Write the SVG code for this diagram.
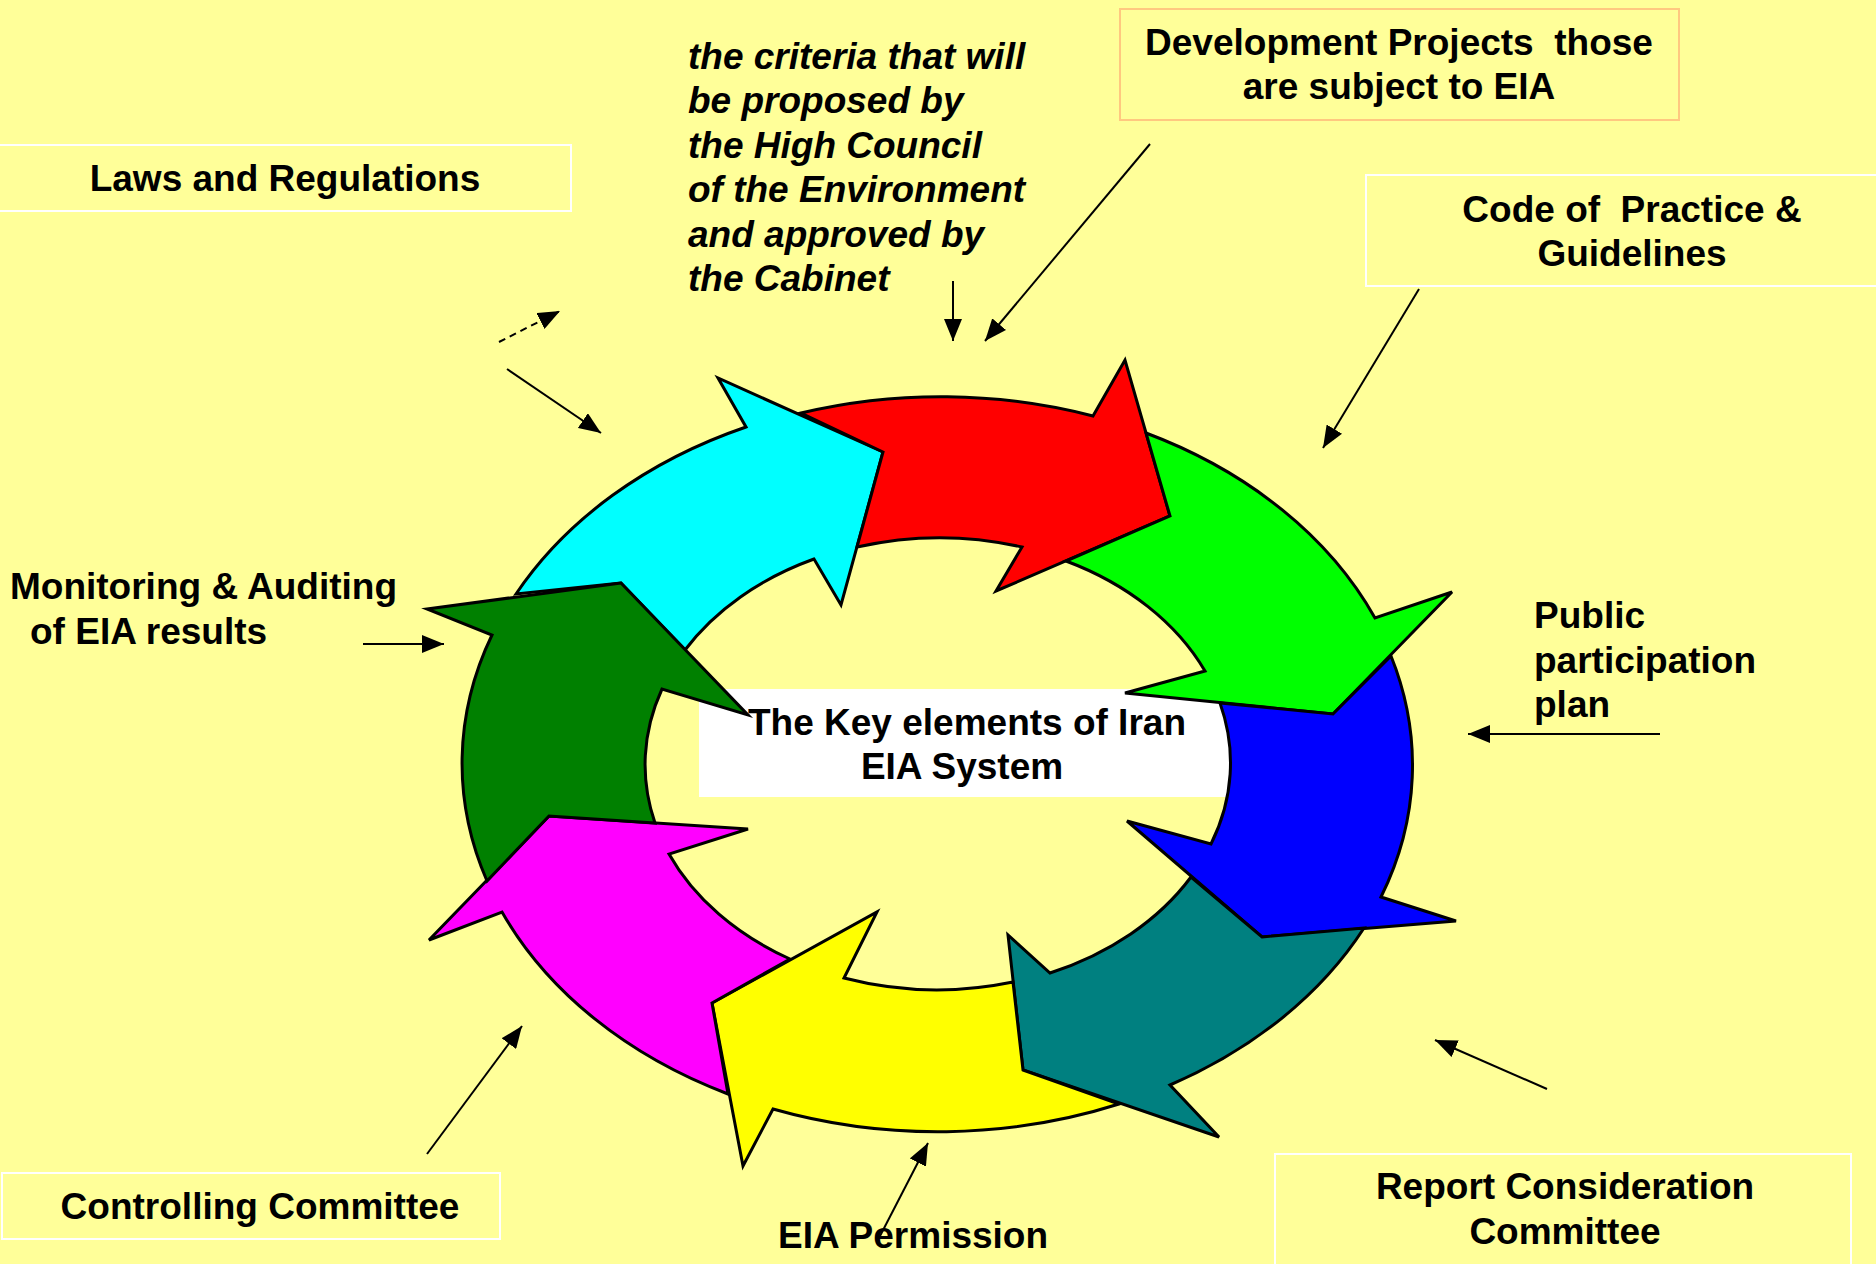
<svg xmlns="http://www.w3.org/2000/svg" width="1876" height="1264" viewBox="0 0 1876 1264">
<style>
.t{font-family:"Liberation Sans",Arial,sans-serif;font-weight:bold;font-size:37px;fill:#000;white-space:pre}
.i{font-style:italic}
.box{fill:none;stroke:#FFFFFF;stroke-width:2}
.seg{stroke:#000;stroke-width:3;stroke-linejoin:miter}
.ln{stroke:#000;stroke-width:2;fill:none}
</style>
<defs>
<marker id="ah" markerUnits="userSpaceOnUse" markerWidth="24" markerHeight="18" refX="22" refY="9" orient="auto">
<path d="M0,0 L22,9 L0,18 Z" fill="#000"/>
</marker>
</defs>
<rect x="0" y="0" width="1876" height="1264" fill="#FFFF99"/>

<g id="center">
<rect x="699" y="689" width="530" height="108" fill="#FFFFFF"/>
</g>

<g id="ring">
<path id="cyan" class="seg" fill="#00FFFF" d="M621,583 L516,594 A476 368 0 0 1 746,427 L718,378 L883,452 L841,605 L814,559 A293 226 0 0 0 685,650 Z"/>
<path id="red" class="seg" fill="#FF0000" d="M883,452 L801,413 A476 368 0 0 1 1093,416 L1125,360 L1170,516 L996,591 L1022,547 A293 226 0 0 0 857,547 Z"/>
<path id="green" class="seg" fill="#00FF00" d="M1170,516 L1146,433 A476 368 0 0 1 1375,618 L1452,592 L1333,714 L1125,693 L1205,671 A293 226 0 0 0 1066,561 Z"/>
<path id="blue" class="seg" fill="#0000FF" d="M1333,714 L1391,656 A476 368 0 0 1 1381,897 L1456,921 L1262,937 L1127,821 L1211,844 A293 226 0 0 0 1220,703 Z"/>
<path id="teal" class="seg" fill="#008080" d="M1262,937 L1364,928 A476 368 0 0 1 1170,1085 L1219,1137 L1023,1070 L1008,935 L1050,973 A293 226 0 0 0 1191,877 Z"/>
<path id="yellow" class="seg" fill="#FFFF00" d="M1023,1070 L1119,1104 A476 368 0 0 1 773,1109 L743,1166 L712,1003 L877,912 L844,978 A293 226 0 0 0 1013,982 Z"/>
<path id="magenta" class="seg" fill="#FF00FF" d="M712,1003 L728,1094 A476 368 0 0 1 502,912 L429,940 L549,816 L748,829 L669,854 A293 226 0 0 0 790,959 Z"/>
<path id="darkgreen" class="seg" fill="#008000" d="M549,816 L487,881 A476 368 0 0 1 492,635 L427,609 L621,583 L748,715 L662,689 A293 226 0 0 0 655,823 Z"/>
</g>

<g id="center-label">
<text class="t" x="967" y="735" text-anchor="middle">The Key elements of Iran</text>
<text class="t" x="962" y="779" text-anchor="middle">EIA System</text>
</g>

<g id="laws">
<rect class="box" x="-2" y="145" width="573" height="66"/>
<text class="t" x="285" y="191" text-anchor="middle">Laws and Regulations</text>
</g>

<g id="criteria">
<text class="t i" x="688" y="69">the criteria that will</text>
<text class="t i" x="688" y="113">be proposed by</text>
<text class="t i" x="688" y="158">the High Council</text>
<text class="t i" x="688" y="202">of the Environment</text>
<text class="t i" x="688" y="247">and approved by</text>
<text class="t i" x="688" y="291">the Cabinet</text>
</g>

<g id="development">
<rect x="1120" y="9" width="559" height="111" fill="none" stroke="#FFC880" stroke-width="2"/>
<text class="t" x="1399" y="55" text-anchor="middle">Development Projects  those</text>
<text class="t" x="1399" y="99" text-anchor="middle">are subject to EIA</text>
</g>

<g id="code">
<rect class="box" x="1366" y="175" width="520" height="111"/>
<text class="t" x="1632" y="222" text-anchor="middle">Code of  Practice &amp;</text>
<text class="t" x="1632" y="266" text-anchor="middle">Guidelines</text>
</g>

<g id="public">
<text class="t" x="1534" y="628">Public</text>
<text class="t" x="1534" y="673">participation</text>
<text class="t" x="1534" y="717">plan</text>
</g>

<g id="monitoring">
<text class="t" x="10" y="599">Monitoring &amp; Auditing</text>
<text class="t" x="30" y="644">of EIA results</text>
</g>

<g id="controlling">
<rect class="box" x="2" y="1173" width="498" height="66"/>
<text class="t" x="260" y="1219" text-anchor="middle">Controlling Committee</text>
</g>

<g id="permission">
<text class="t" x="778" y="1248">EIA Permission</text>
</g>

<g id="report">
<rect class="box" x="1275" y="1154" width="576" height="120"/>
<text class="t" x="1565" y="1199" text-anchor="middle">Report Consideration</text>
<text class="t" x="1565" y="1244" text-anchor="middle">Committee</text>
</g>

<g id="connectors">
<line class="ln" x1="499" y1="342" x2="560" y2="311" stroke-dasharray="7 5" marker-end="url(#ah)"/>
<line class="ln" x1="507" y1="369" x2="601" y2="433" marker-end="url(#ah)"/>
<line class="ln" x1="953" y1="281" x2="953" y2="341" marker-end="url(#ah)"/>
<line class="ln" x1="1150" y1="144" x2="985" y2="341" marker-end="url(#ah)"/>
<line class="ln" x1="1419" y1="289" x2="1323" y2="448" marker-end="url(#ah)"/>
<line class="ln" x1="363" y1="644" x2="444" y2="644" marker-end="url(#ah)"/>
<line class="ln" x1="1660" y1="734" x2="1468" y2="734" marker-end="url(#ah)"/>
<line class="ln" x1="1547" y1="1089" x2="1435" y2="1040" marker-end="url(#ah)"/>
<line class="ln" x1="427" y1="1154" x2="522" y2="1026" marker-end="url(#ah)"/>
<line class="ln" x1="880" y1="1236" x2="928" y2="1143" marker-end="url(#ah)"/>
</g>
</svg>
